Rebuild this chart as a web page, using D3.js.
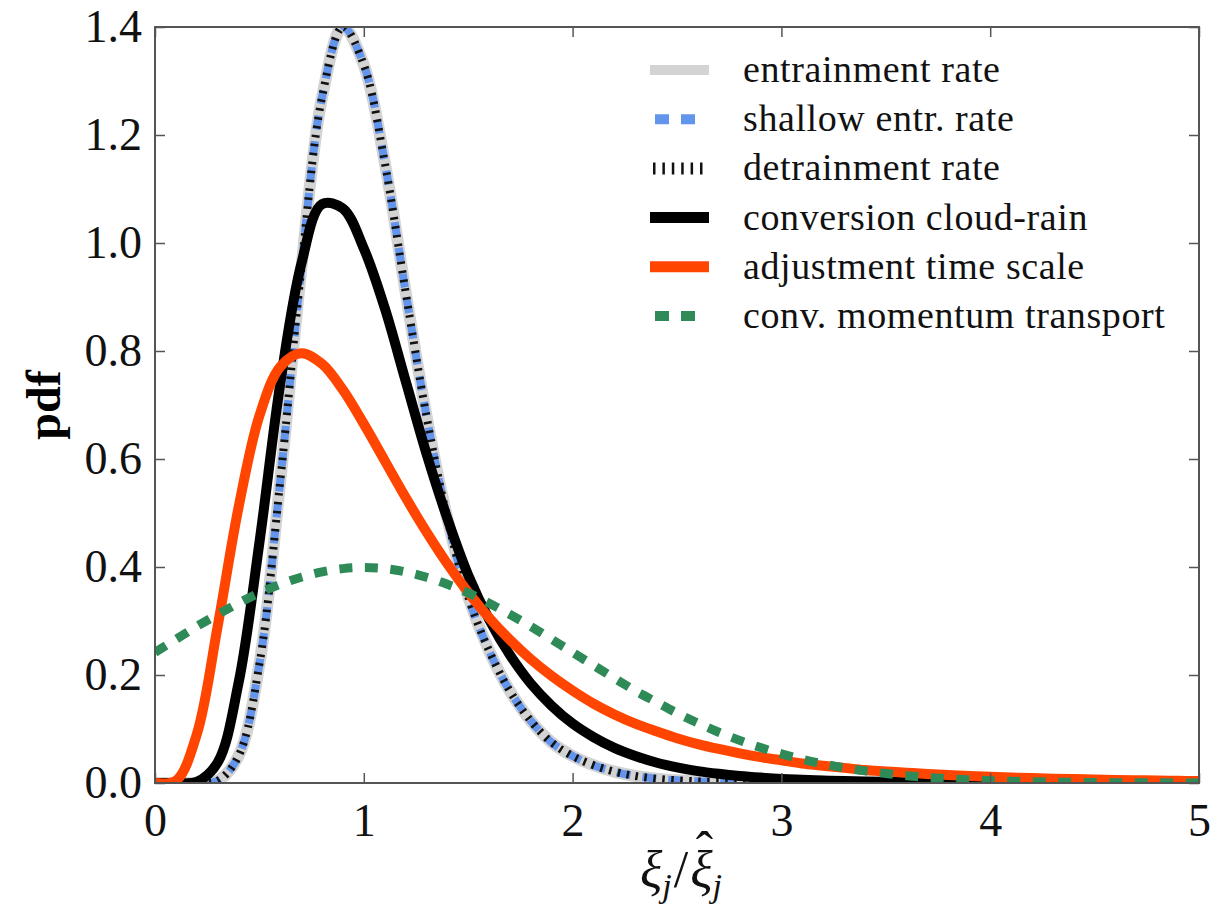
<!DOCTYPE html>
<html>
<head>
<meta charset="utf-8">
<script src="https://cdn.jsdelivr.net/npm/d3@7"></script>
<style>
  html, body { margin: 0; padding: 0; background: #ffffff; }
  svg { display: block; }
</style>
</head>
<body>
<svg id="chart" width="1212" height="917"></svg>
<script>
// ---------------- DATA ----------------
const xValues = [0.0,0.1,0.2,0.3,0.4,0.5,0.6,0.7,0.8,0.9,
                 1.0,1.1,1.2,1.3,1.4,1.5,1.6,1.7,1.8,1.9,
                 2.0,2.1,2.2,2.3,2.4,2.5,2.6,2.7,2.8,2.9,
                 3.0,3.1,3.2,3.3,3.4,3.5,3.6,3.7,3.8,3.9,
                 4.0,4.1,4.2,4.3,4.4,4.5,4.6,4.7,4.8,4.9,5.0];

const entrainmentRate = [0,0,0,0.004,0.05,0.22,0.56,0.95,1.27,1.40,
                         1.33,1.15,0.91,0.68,0.49,0.345,0.245,0.17,0.115,0.075,
                         0.05,0.033,0.021,0.013,0.008,0.005,0.003,0.002,0.0012,0.0008,
                         0.0005,0.0003,0.0002,0.0001,0,0,0,0,0,0,
                         0,0,0,0,0,0,0,0,0,0,0];
const shallowEntrRate = [0,0,0,0.004,0.05,0.22,0.56,0.95,1.27,1.40,
                         1.33,1.15,0.91,0.68,0.49,0.345,0.245,0.17,0.115,0.075,
                         0.05,0.033,0.021,0.013,0.008,0.005,0.003,0.002,0.0012,0.0008,
                         0.0005,0.0003,0.0002,0.0001,0,0,0,0,0,0,
                         0,0,0,0,0,0,0,0,0,0,0];
const detrainmentRate = [0,0,0,0.004,0.05,0.22,0.56,0.95,1.27,1.40,
                         1.33,1.15,0.91,0.68,0.49,0.345,0.245,0.17,0.115,0.075,
                         0.05,0.033,0.021,0.013,0.008,0.005,0.003,0.002,0.0012,0.0008,
                         0.0005,0.0003,0.0002,0.0001,0,0,0,0,0,0,
                         0,0,0,0,0,0,0,0,0,0,0];
const conversionCloudRain = [0,0,0.002,0.038,0.185,0.445,0.74,0.96,1.072,1.064,
                             0.99,0.88,0.745,0.61,0.49,0.385,0.303,0.237,0.184,0.143,
                             0.11,0.085,0.065,0.05,0.038,0.029,0.022,0.017,0.013,0.010,
                             0.0076,0.0059,0.0045,0.0035,0.0027,0.0021,0.0016,0.0013,0.001,0.0008,
                             0.0006,0.0005,0.0004,0.0003,0.0003,0.0002,0.0002,0.0001,0.0001,0.0001,0.0001];
const adjustmentTimeScale = [0,0.004,0.09,0.29,0.51,0.68,0.771,0.796,0.776,0.728,
                             0.665,0.597,0.529,0.465,0.406,0.353,0.306,0.265,0.229,0.198,
                             0.171,0.147,0.127,0.110,0.096,0.083,0.072,0.063,0.055,0.048,
                             0.042,0.036,0.032,0.028,0.024,0.0215,0.019,0.0167,0.0147,0.013,
                             0.0115,0.0102,0.0091,0.0081,0.0072,0.0064,0.0057,0.0051,0.0045,0.0041,0.0036];
const convMomentumTransport = [0.242,0.266,0.290,0.312,0.333,0.352,0.368,0.381,0.391,0.397,
                               0.399,0.397,0.391,0.381,0.368,0.352,0.333,0.312,0.290,0.266,
                               0.242,0.218,0.194,0.171,0.150,0.1295,0.111,0.094,0.079,0.0656,
                               0.054,0.044,0.0355,0.0283,0.0224,0.0175,0.0136,0.0104,0.0079,0.006,
                               0.0044,0.0033,0.0024,0.0017,0.0012,0.0009,0.0006,0.0004,0.0003,0.0002,0.0001];

const seriesLabels = ["entrainment rate","shallow entr. rate","detrainment rate",
                      "conversion cloud-rain","adjustment time scale","conv. momentum transport"];
const xTicks = [0,1,2,3,4,5];
const yTicks = [0.0,0.2,0.4,0.6,0.8,1.0,1.2,1.4];

// ---------------- STYLES ----------------
const seriesData = [entrainmentRate, shallowEntrRate, detrainmentRate,
                    conversionCloudRain, adjustmentTimeScale, convMomentumTransport];
const seriesStyle = [
  {color:"#d3d3d3", width:12, dash:null,      legDash:null,     legA:650, legB:709, legW:10},
  {color:"#6495ed", width:8,  dash:"14,12",   legDash:"14,12",  legA:655, legB:695, legW:10},
  {color:"#111111", width:8,  dash:"2.5,6.5", legDash:"2.5,6.9",legA:653, legB:703, legW:12},
  {color:"#000000", width:10, dash:null,      legDash:null,     legA:650, legB:709, legW:11},
  {color:"#ff4500", width:10, dash:null,      legDash:null,     legA:650, legB:709, legW:11},
  {color:"#2e8b57", width:9,  dash:"13,12.5", legDash:"14,12",  legA:655, legB:695, legW:10}
];

const FONT = "'Liberation Serif', 'Times New Roman', serif";
const L = 155, R = 1199, T = 27, B = 783;

const svg = d3.select("#chart");
const x = d3.scaleLinear().domain([0,5]).range([L,R]);
const y = d3.scaleLinear().domain([0,1.4]).range([B,T]);

svg.append("defs").append("clipPath").attr("id","plotclip")
  .append("rect").attr("x",L).attr("y",T).attr("width",R-L).attr("height",B-T);

// curves
const line = d3.line()
  .x((d,i) => x(xValues[i]))
  .y(d => y(d))
  .curve(d3.curveCatmullRom.alpha(0.5));

const plot = svg.append("g").attr("clip-path","url(#plotclip)");
seriesData.forEach((vals,k) => {
  const s = seriesStyle[k];
  plot.append("path")
    .datum(vals)
    .attr("d", line)
    .attr("fill","none")
    .attr("stroke", s.color)
    .attr("stroke-width", s.width)
    .attr("stroke-dasharray", s.dash)
    .attr("stroke-linejoin","round")
    .attr("stroke-linecap","butt");
});

// axes (inward ticks on all sides)
const axisColor = "#555555";
function styleAxis(g){
  g.select(".domain").remove();
  g.selectAll(".tick line").attr("stroke",axisColor).attr("stroke-width",1.5);
  g.selectAll("text").attr("font-family",FONT).attr("font-size",46).attr("fill","#111");
}
svg.append("g").attr("transform",`translate(0,${B})`)
  .call(d3.axisBottom(x).tickValues(xTicks).tickSize(-10).tickPadding(20).tickFormat(d3.format("d")))
  .call(styleAxis);
svg.append("g").attr("transform",`translate(0,${T})`)
  .call(d3.axisTop(x).tickValues(xTicks).tickSize(-10).tickFormat(""))
  .call(styleAxis);
svg.append("g").attr("transform",`translate(${L},0)`)
  .call(d3.axisLeft(y).tickValues(yTicks).tickSize(-10).tickPadding(13).tickFormat(d3.format(".1f")))
  .call(styleAxis);
svg.append("g").attr("transform",`translate(${R},0)`)
  .call(d3.axisRight(y).tickValues(yTicks).tickSize(-10).tickFormat(""))
  .call(styleAxis);

svg.append("rect").attr("x",L).attr("y",T).attr("width",R-L).attr("height",B-T)
  .attr("fill","none").attr("stroke",axisColor).attr("stroke-width",2);

// y label
svg.append("text")
  .attr("transform",`translate(60,${(T+B)/2}) rotate(-90)`)
  .attr("text-anchor","middle")
  .attr("font-family",FONT).attr("font-weight","bold").attr("font-size",48)
  .text("pdf");

// x label:  ξ_j / ξ̂_j   (single text element; hat placed over the second ξ)
const xLabel = svg.append("text")
  .attr("x", 0).attr("y", 887)
  .attr("font-family",FONT).attr("font-size",52).attr("font-style","italic").attr("fill","#111");
xLabel.append("tspan").text("ξ");
xLabel.append("tspan").attr("font-size",34).attr("dy",10).text("j");
xLabel.append("tspan").attr("font-style","normal").attr("dy",-10).attr("dx",2).text("/");
xLabel.append("tspan").attr("dx",2).text("ξ");
const hat = xLabel.append("tspan").attr("font-style","normal").text("ˆ");
const subJ = xLabel.append("tspan").attr("font-size",34).text("j");
{
  const n = xLabel.node();
  const e3 = n.getExtentOfChar(3);   // second ξ
  const e4 = n.getExtentOfChar(4);   // hat
  const raise = 19;
  const dxHat = (e3.x + e3.width/2 + 3) - (e4.x + e4.width/2);
  hat.attr("dx", dxHat).attr("dy", -raise);
  const hatEnd = e4.x + dxHat + e4.width;
  subJ.attr("dx", (e3.x + e3.width) - hatEnd).attr("dy", raise + 10);
  const bb = n.getBBox();
  xLabel.attr("x", (L+R)/2 + 4 - bb.width/2);
}

// legend
const legTextX = 743, legY0 = 70, legDY = 49.2;
const leg = svg.append("g");
seriesLabels.forEach((lab,k) => {
  const s = seriesStyle[k];
  const yy = legY0 + k*legDY;
  leg.append("line")
    .attr("x1",s.legA).attr("x2",s.legB).attr("y1",yy).attr("y2",yy)
    .attr("stroke",s.color).attr("stroke-width", s.legW)
    .attr("stroke-dasharray", s.legDash);
  leg.append("text")
    .attr("x",legTextX).attr("y",yy + 12)
    .attr("font-family",FONT).attr("font-size",38).attr("letter-spacing","0.6px").attr("fill","#111")
    .text(lab);
});
</script>
</body>
</html>
